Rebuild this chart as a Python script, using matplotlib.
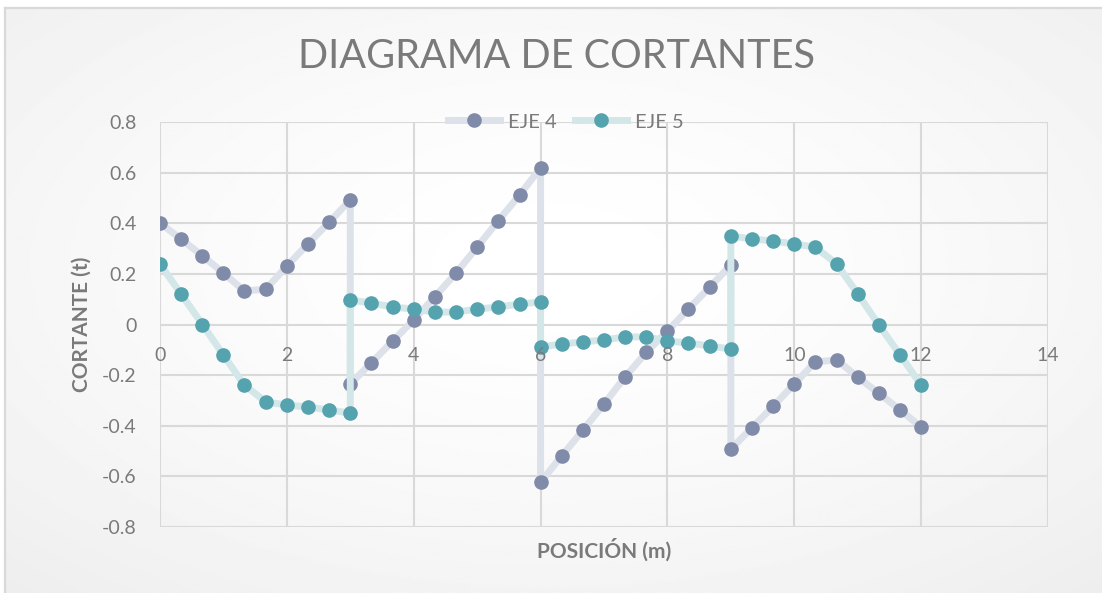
import numpy as np
import matplotlib.pyplot as plt
from matplotlib.patches import Rectangle

# shear diagram data
pos_eje4 = [0, 0.33, 0.67, 1, 1.33, 1.67, 2, 2.33, 2.67, 3,
            3, 3.33, 3.67, 4, 4.33, 4.67, 5, 5.33, 5.67, 6,
            6, 6.33, 6.67, 7, 7.33, 7.67, 8, 8.33, 8.67, 9,
            9, 9.33, 9.67, 10, 10.33, 10.67, 11, 11.33, 11.67, 12]
v_eje4 = [0.401, 0.338, 0.271, 0.204, 0.132, 0.140, 0.231, 0.318, 0.405, 0.492,
          -0.235, -0.152, -0.065, 0.018, 0.109, 0.204, 0.306, 0.409, 0.512, 0.619,
          -0.623, -0.520, -0.417, -0.314, -0.208, -0.109, -0.026, 0.061, 0.148, 0.235,
          -0.492, -0.409, -0.322, -0.235, -0.148, -0.140, -0.208, -0.271, -0.338, -0.405]

pos_eje5 = pos_eje4
v_eje5 = [0.239, 0.121, 0.0, -0.121, -0.239, -0.306, -0.318, -0.326, -0.338, -0.350,
          0.097, 0.085, 0.069, 0.061, 0.049, 0.049, 0.061, 0.069, 0.081, 0.089,
          -0.089, -0.077, -0.069, -0.061, -0.049, -0.049, -0.065, -0.073, -0.085, -0.097,
          0.350, 0.338, 0.330, 0.318, 0.306, 0.239, 0.121, 0.0, -0.121, -0.239]

x_ticks = [0, 2, 4, 6, 8, 10, 12, 14]
y_ticks = [-0.8, -0.6, -0.4, -0.2, 0, 0.2, 0.4, 0.6, 0.8]
y_labels = ['-0.8', '-0.6', '-0.4', '-0.2', '0', '0.2', '0.4', '0.6', '0.8']

plt.rcParams['font.family'] = ['Lato', 'DejaVu Sans']
text_col = '#7a7a7a'
grid_col = '#d9d9d9'

fig = plt.figure(figsize=(11.02, 5.93), dpi=100)

# soft radial background like the Excel chart style
bg = fig.add_axes([0, 0, 1, 1], zorder=-10)
yy, xx = np.mgrid[0:1:300j, 0:1:550j]
r = np.sqrt(((xx - 0.5) / 0.75) ** 2 + ((yy - 0.45) / 0.75) ** 2)
shade = 1.0 - 0.07 * np.clip(r, 0, 1) ** 1.5
bg.imshow(shade, cmap='gray', vmin=0, vmax=1, extent=[0, 1, 0, 1], aspect='auto')
bg.set_axis_off()
fig.patches.append(Rectangle((0, 0), 5 / 1102, 1, transform=fig.transFigure,
                             facecolor='white', edgecolor='none', zorder=-5))
fig.patches.append(Rectangle((0, 1 - 8 / 593), 1, 8 / 593, transform=fig.transFigure,
                             facecolor='white', edgecolor='none', zorder=-5))
fig.lines.append(plt.Line2D([5 / 1102, 5 / 1102], [0, 1 - 8 / 593], transform=fig.transFigure,
                            color=grid_col, lw=1.6))
fig.lines.append(plt.Line2D([5 / 1102, 1], [1 - 8 / 593, 1 - 8 / 593], transform=fig.transFigure,
                            color=grid_col, lw=1.6))

ax = fig.add_axes([160 / 1102, 1 - 527 / 593, 888 / 1102, 405 / 593])
ax.patch.set_alpha(0)

ax.plot(pos_eje4, v_eje4, color='#dde1e9', lw=5, solid_joinstyle='round',
        solid_capstyle='round', zorder=3)
ax.plot(pos_eje4, v_eje4, ls='none', marker='o', ms=9.5, color='#7f8ba8', zorder=4)
ax.plot(pos_eje5, v_eje5, color='#d3e7e9', lw=5, solid_joinstyle='round',
        solid_capstyle='round', zorder=5)
ax.plot(pos_eje5, v_eje5, ls='none', marker='o', ms=9.5, color='#55a3ae', zorder=6)

ax.set_xlim(0, 14)
ax.set_ylim(-0.8, 0.8)
ax.set_xticks(x_ticks)
ax.set_yticks(y_ticks)
ax.set_yticklabels(y_labels)
ax.grid(True, axis='y', color=grid_col, lw=1.5, zorder=0)
ax.set_axisbelow(True)
for xv in x_ticks:
    ax.axvline(xv, color=grid_col, lw=1.5, zorder=0.5)
for s in ['left', 'right', 'top']:
    ax.spines[s].set_visible(False)
ax.spines['bottom'].set_position(('data', 0))
ax.spines['bottom'].set_visible(False)
ax.xaxis.set_zorder(10)
ax.tick_params(axis='x', length=0, pad=16, labelsize=14, labelcolor=text_col)
ax.tick_params(axis='y', length=0, pad=17, labelsize=14, labelcolor=text_col)

ax.set_xlabel('POSICIÓN (m)', fontsize=15, fontweight='bold', color=text_col)
ax.xaxis.set_label_coords(0.5, -0.027)
ax.set_ylabel('CORTANTE (t)', fontsize=15, fontweight='bold', color=text_col)
ax.yaxis.set_label_coords(-0.077, 0.5)

fig.text(557 / 1102, 1 - 56 / 593, 'DIAGRAMA DE CORTANTES', ha='center', va='center',
         fontsize=28.5, color=text_col)

# legend: line with marker, as in Excel
h4, = ax.plot([], [], color='#dde1e9', lw=5, marker='o', ms=9.5,
              markerfacecolor='#7f8ba8', markeredgecolor='#7f8ba8')
h5, = ax.plot([], [], color='#d3e7e9', lw=5, marker='o', ms=9.5,
              markerfacecolor='#55a3ae', markeredgecolor='#55a3ae')
leg = fig.legend([h4, h5], ['EJE 4', 'EJE 5'], loc='center', ncol=2,
                 bbox_to_anchor=(566 / 1102, 1 - 122 / 593), frameon=False,
                 fontsize=14.5, handlelength=2.6, handletextpad=0.4, columnspacing=0.9)
for t in leg.get_texts():
    t.set_color(text_col)

fig.savefig('out.png', dpi=100)
